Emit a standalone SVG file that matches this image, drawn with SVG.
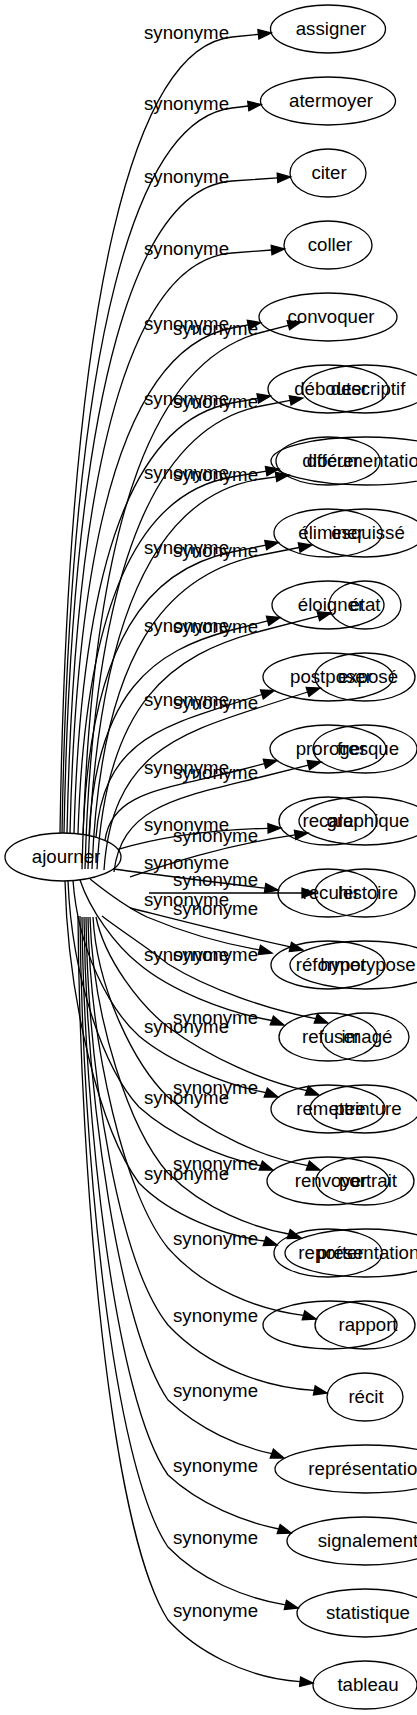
<svg xmlns="http://www.w3.org/2000/svg" width="417" height="1715" viewBox="0 0 417 1715">
<style>
text{font-family:"Liberation Sans",Arial,sans-serif;font-size:18.67px;fill:#000}
.node ellipse{fill:none;stroke:#000;stroke-width:1.3}
.node text{text-anchor:middle}
#edges path{fill:none;stroke:#000;stroke-width:1.3}
#edges polygon{fill:#000;stroke:#000;stroke-width:1.3}
</style>
<rect width="417" height="1715" fill="#fff"/>
<g id="edges">
<path d="M60,833 C68.6,275.8 137.4,46.6 232,37 L258.4,34.3"/><polygon points="271.3,33 258.9,39 257.9,29.6"/>
<path d="M62,833 C70.5,325.5 138.5,119.1 232,108 L248.3,106"/><polygon points="261.2,104.5 248.9,110.7 247.7,101.3"/>
<path d="M64,833 C72.4,376.6 139.6,187.3 232,181 L277.5,177.9"/><polygon points="290.5,177 277.8,182.6 277.2,173.2"/>
<path d="M67,833 C75.3,427 141.3,259.9 232,253 L271.6,250"/><polygon points="284.6,249 272,254.7 271.2,245.3"/>
<path d="M70,833.2 C78.1,479.7 142.9,345 232,328 L248.2,324.9"/><polygon points="260.8,322.5 249.1,329.5 247.3,320.3"/>
<path d="M74,833.4 C81.9,532.4 145.1,418.8 232,403 L257.8,398.3"/><polygon points="270.6,396 258.6,402.9 257,393.7"/>
<path d="M78,833.8 C85.7,583.9 147.3,491.4 232,477 L266.2,471.2"/><polygon points="279,469 267,475.8 265.4,466.6"/>
<path d="M83,834.5 C90.5,636.7 150,568.8 232,552 L265.7,545.1"/><polygon points="278.4,542.5 266.6,549.7 264.8,540.5"/>
<path d="M89,835.5 C96.2,691.7 153.3,650.4 232,630 L267.6,620.8"/><polygon points="280.2,617.5 268.8,625.4 266.4,616.3"/>
<path d="M96,837.3 C102.8,744 157.2,727.9 232,704 L261.9,694.5"/><polygon points="274.3,690.5 263.3,699 260.5,690"/>
<path d="M105,840.4 C111.4,792.5 162.1,789.8 232,772 L264.5,763.7"/><polygon points="277.1,760.5 265.7,768.3 263.3,759.2"/>
<path d="M118,849.4 C150,840 195,830 268,828.3"/><polygon points="281,828 268.1,833 267.9,823.6"/>
<path d="M113,869 C160,875 220,883 265.1,888.1"/><polygon points="278,890 264.4,892.8 265.8,883.5"/>
<path d="M90,879 C110,895 128,908 147,917 C185,933 225,944 259.4,949.9"/><polygon points="272,953 258.3,954.5 260.5,945.3"/>
<path d="M80,880 C90,910 115,945 139,964 C170,990 225,1012 271.8,1020.5"/><polygon points="284,1025 270.2,1024.9 273.4,1016.1"/>
<path d="M73,880.5 C78,950 110,1010 139,1036 C170,1062 225,1085 265.8,1092.6"/><polygon points="278,1097 264.2,1097 267.4,1088.2"/>
<path d="M68,881 C72,980 105,1070 139,1107 C170,1135 220,1158 260.8,1165.6"/><polygon points="273,1170 259.2,1170 262.4,1161.2"/>
<path d="M65,881 C68,1000 100,1130 139,1183 C170,1215 225,1236 264.7,1241"/><polygon points="277,1245 263.2,1245.5 266.2,1236.5"/>
<path d="M82,869.3 C91,493.5 162.5,358.4 261,332.5 L288.4,325.3"/><polygon points="301,322 289.6,329.8 287.2,320.8"/>
<path d="M85,869.1 C93.8,545 164.2,424.4 261,406 L290.2,400.4"/><polygon points="303,398 291.1,405 289.3,395.8"/>
<path d="M88,869 C96.7,596 166,492.5 261,479 L276.1,476.8"/><polygon points="289,475 276.8,481.5 275.4,472.2"/>
<path d="M92,869 C100.5,649.2 168,573.2 261,555 L299.2,547.5"/><polygon points="312,545 300.1,552.1 298.3,542.9"/>
<path d="M97,869.3 C105.2,702.5 170.8,654.2 261,631 L318.4,616.2"/><polygon points="331,613 319.6,620.8 317.2,611.7"/>
<path d="M104,870 C111.9,755.9 174.6,734.7 261,707 L307.6,692"/><polygon points="320,688 309,696.5 306.2,687.5"/>
<path d="M114,872 C121.4,805.5 180.1,797.2 261,777 L308.4,765.2"/><polygon points="321,762 309.5,769.8 307.2,760.6"/>
<path d="M130,877 C165,865 220,846 295.1,834.9"/><polygon points="308,833 295.8,839.6 294.4,830.3"/>
<path d="M149,893 L302,893"/><polygon points="315,893 302,897.7 302,888.3"/>
<path d="M130,908 C170,918 240,936 290.4,946.9"/><polygon points="303,950 289.3,951.5 291.5,942.3"/>
<path d="M102,916 C120,930 148,948 168,964 C210,990 270,1010 315.8,1018.6"/><polygon points="328,1023 314.2,1023 317.4,1014.2"/>
<path d="M96,917 C105,960 140,1005 168,1027 C210,1058 265,1082 306.8,1090.6"/><polygon points="319,1095 305.2,1095 308.4,1086.2"/>
<path d="M93,917 C97,990 135,1065 168,1097 C210,1135 265,1158 307.8,1165.6"/><polygon points="320,1170 306.2,1170 309.4,1161.2"/>
<path d="M90,917 C93,1020 130,1130 168,1173 C205,1210 255,1228 288.7,1234"/><polygon points="301,1238 287.2,1238.5 290.2,1229.5"/>
<path d="M88,917 C90,1050 125,1195 168,1248 C205,1290 260,1310 303.5,1315.4"/><polygon points="316,1319 302.2,1319.9 304.8,1310.9"/>
<path d="M86,917 C88,1080 120,1265 168,1325 C210,1370 270,1388 314.3,1390.4"/><polygon points="327,1393 313.4,1395 315.2,1385.8"/>
<path d="M84,917 C86,1100 120,1330 168,1400 C200,1430 240,1447 271.8,1453.6"/><polygon points="284,1458 270.2,1458 273.4,1449.2"/>
<path d="M82,917 C84,1120 115,1400 168,1475 C200,1505 245,1522 278.7,1529"/><polygon points="291,1533 277.2,1533.5 280.2,1524.5"/>
<path d="M80,916 C82,1150 112,1465 168,1547 C200,1580 245,1598 285.4,1604.9"/><polygon points="298,1608 284.3,1609.5 286.5,1600.3"/>
<path d="M78,916 C80,1180 110,1530 168,1620 C195,1650 245,1678 300.1,1681.7"/><polygon points="313,1683 299.6,1686.4 300.6,1677"/>
</g>
<g id="edge-labels">
<text x="144" y="39">synonyme</text>
<text x="144" y="110">synonyme</text>
<text x="144" y="183">synonyme</text>
<text x="144" y="255">synonyme</text>
<text x="144" y="330">synonyme</text>
<text x="144" y="405">synonyme</text>
<text x="144" y="479">synonyme</text>
<text x="144" y="554">synonyme</text>
<text x="144" y="632">synonyme</text>
<text x="144" y="706">synonyme</text>
<text x="144" y="774">synonyme</text>
<text x="144" y="831">synonyme</text>
<text x="144" y="869">synonyme</text>
<text x="144" y="906">synonyme</text>
<text x="144" y="961">synonyme</text>
<text x="144" y="1033">synonyme</text>
<text x="144" y="1104">synonyme</text>
<text x="144" y="1180">synonyme</text>
<text x="173" y="334.5">synonyme</text>
<text x="173" y="408">synonyme</text>
<text x="173" y="481">synonyme</text>
<text x="173" y="557">synonyme</text>
<text x="173" y="633">synonyme</text>
<text x="173" y="709">synonyme</text>
<text x="173" y="779">synonyme</text>
<text x="173" y="842">synonyme</text>
<text x="173" y="886">synonyme</text>
<text x="173" y="915">synonyme</text>
<text x="173" y="961">synonyme</text>
<text x="173" y="1024">synonyme</text>
<text x="173" y="1094">synonyme</text>
<text x="173" y="1170">synonyme</text>
<text x="173" y="1245">synonyme</text>
<text x="173" y="1322">synonyme</text>
<text x="173" y="1397">synonyme</text>
<text x="173" y="1472">synonyme</text>
<text x="173" y="1544">synonyme</text>
<text x="173" y="1617">synonyme</text>
</g>
<g id="ajourner" class="node"><ellipse cx="63" cy="857" rx="58" ry="24"/><text x="66" y="863">ajourner</text></g>
<g id="assigner" class="node"><ellipse cx="328" cy="29" rx="57.5" ry="24"/><text x="331" y="35">assigner</text></g>
<g id="atermoyer" class="node"><ellipse cx="328" cy="101" rx="67.5" ry="24"/><text x="331" y="107">atermoyer</text></g>
<g id="citer" class="node"><ellipse cx="328" cy="173" rx="38" ry="24"/><text x="329" y="179">citer</text></g>
<g id="coller" class="node"><ellipse cx="328" cy="245" rx="44" ry="24"/><text x="330" y="251">coller</text></g>
<g id="convoquer" class="node"><ellipse cx="328" cy="317" rx="69" ry="24"/><text x="331" y="323">convoquer</text></g>
<g id="debouter" class="node"><ellipse cx="328" cy="389" rx="60" ry="24"/><text x="331" y="395">débouter</text></g>
<g id="differer" class="node"><ellipse cx="328" cy="461" rx="52" ry="24"/><text x="331" y="467">différer</text></g>
<g id="eliminer" class="node"><ellipse cx="328" cy="533" rx="54" ry="24"/><text x="331" y="539">éliminer</text></g>
<g id="eloigner" class="node"><ellipse cx="328" cy="605" rx="56" ry="24"/><text x="331" y="611">éloigner</text></g>
<g id="postposer" class="node"><ellipse cx="328" cy="677" rx="65" ry="24"/><text x="331" y="683">postposer</text></g>
<g id="proroger" class="node"><ellipse cx="328" cy="749" rx="58" ry="24"/><text x="331" y="755">proroger</text></g>
<g id="recaler" class="node"><ellipse cx="328" cy="821" rx="49" ry="24"/><text x="331" y="827">recaler</text></g>
<g id="reculer" class="node"><ellipse cx="328" cy="893" rx="50" ry="24"/><text x="331" y="899">reculer</text></g>
<g id="reformer" class="node"><ellipse cx="328" cy="965" rx="57" ry="24"/><text x="331" y="971">réformer</text></g>
<g id="refuser" class="node"><ellipse cx="328" cy="1037" rx="49" ry="24"/><text x="331" y="1043">refuser</text></g>
<g id="remettre" class="node"><ellipse cx="328" cy="1109" rx="57" ry="24"/><text x="331" y="1115">remettre</text></g>
<g id="renvoyer" class="node"><ellipse cx="328" cy="1181" rx="61" ry="24"/><text x="331" y="1187">renvoyer</text></g>
<g id="reporter" class="node"><ellipse cx="328" cy="1253" rx="54" ry="24"/><text x="331" y="1259">reporter</text></g>
<g id="blank19" class="node"><ellipse cx="330" cy="1325" rx="67" ry="24"/></g>
<g id="descriptif" class="node"><ellipse cx="365" cy="389" rx="63" ry="24"/><text x="368" y="395">descriptif</text></g>
<g id="documentation" class="node"><ellipse cx="365" cy="461" rx="94" ry="24"/><text x="368" y="467">documentation</text></g>
<g id="esquisse" class="node"><ellipse cx="365" cy="533" rx="60" ry="24"/><text x="368" y="539">esquissé</text></g>
<g id="etat" class="node"><ellipse cx="365" cy="605" rx="36" ry="24"/><text x="365" y="611">état</text></g>
<g id="expose" class="node"><ellipse cx="365" cy="677" rx="50" ry="24"/><text x="368" y="683">exposé</text></g>
<g id="fresque" class="node"><ellipse cx="365" cy="749" rx="52" ry="24"/><text x="368" y="755">fresque</text></g>
<g id="graphique" class="node"><ellipse cx="365" cy="821" rx="66" ry="24"/><text x="368" y="827">graphique</text></g>
<g id="histoire" class="node"><ellipse cx="365" cy="893" rx="50" ry="24"/><text x="368" y="899">histoire</text></g>
<g id="hypotypose" class="node"><ellipse cx="365" cy="965" rx="75" ry="24"/><text x="368" y="971">hypotypose</text></g>
<g id="image" class="node"><ellipse cx="365" cy="1037" rx="44" ry="24"/><text x="367" y="1043">imagé</text></g>
<g id="peinture" class="node"><ellipse cx="365" cy="1109" rx="55" ry="24"/><text x="368" y="1115">peinture</text></g>
<g id="portrait" class="node"><ellipse cx="365" cy="1181" rx="49" ry="24"/><text x="368" y="1187">portrait</text></g>
<g id="presentation" class="node"><ellipse cx="365" cy="1253" rx="80" ry="24"/><text x="368" y="1259">présentation</text></g>
<g id="rapport" class="node"><ellipse cx="365" cy="1325" rx="50" ry="24"/><text x="368" y="1331">rapport</text></g>
<g id="recit" class="node"><ellipse cx="365" cy="1397" rx="38" ry="24"/><text x="366" y="1403">récit</text></g>
<g id="representation" class="node"><ellipse cx="365" cy="1469" rx="90" ry="24"/><text x="368" y="1475">représentation</text></g>
<g id="signalement" class="node"><ellipse cx="365" cy="1541" rx="78" ry="24"/><text x="368" y="1547">signalement</text></g>
<g id="statistique" class="node"><ellipse cx="365" cy="1613" rx="68" ry="24"/><text x="368" y="1619">statistique</text></g>
<g id="tableau" class="node"><ellipse cx="365" cy="1685" rx="52" ry="24"/><text x="368" y="1691">tableau</text></g>
</svg>
